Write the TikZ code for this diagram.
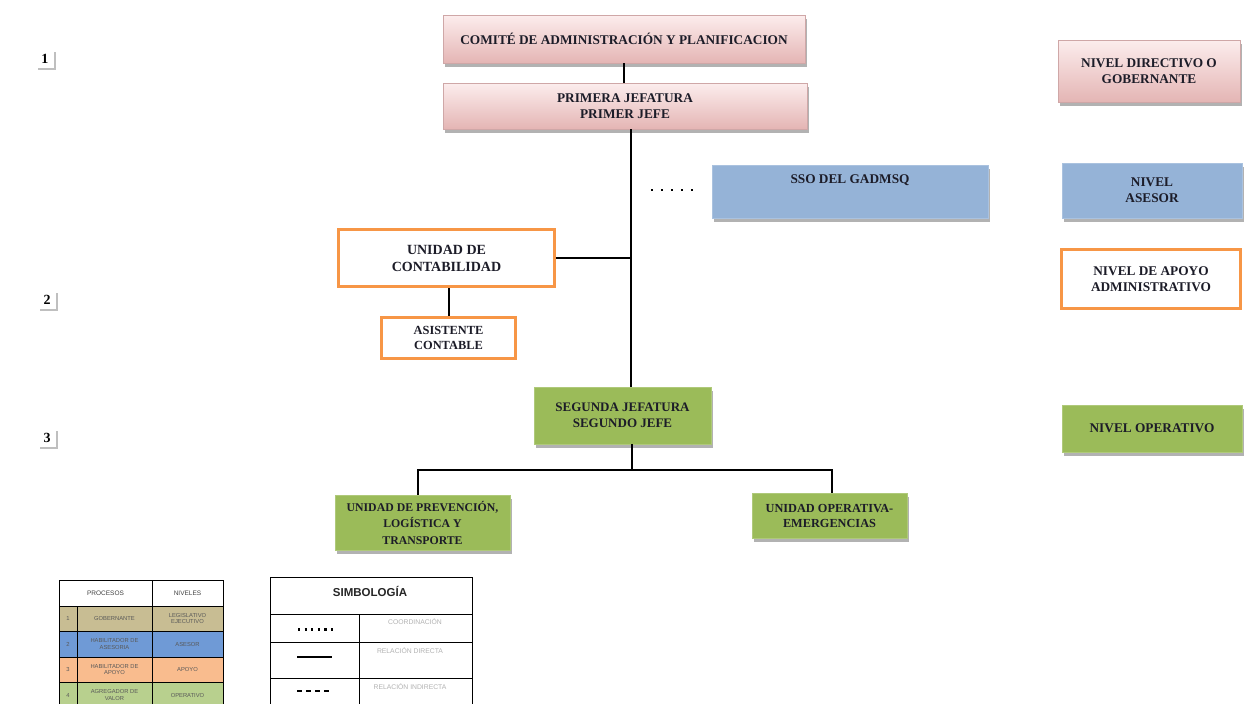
\documentclass[tikz,border=0pt]{standalone}
\usepackage{fontspec}
\setmainfont{Liberation Serif}
\newfontfamily\legsans{Liberation Sans}
\usetikzlibrary{shadows}
\definecolor{pinkTop}{HTML}{FCEDED}
\definecolor{pinkBot}{HTML}{E4B5B4}
\definecolor{pinkBorder}{HTML}{CFA7A7}
\definecolor{bluebox}{HTML}{95B3D7}
\definecolor{greenbox}{HTML}{9BBB59}
\definecolor{orangeb}{HTML}{F79646}
\definecolor{txt}{HTML}{1C1C28}
\definecolor{tan}{HTML}{C8BD93}
\definecolor{lblue}{HTML}{6F9AD6}
\definecolor{lorange}{HTML}{F9BC8E}
\definecolor{lgreen}{HTML}{B8D08E}
\tikzset{
  box/.style={rectangle, inner sep=2pt, align=center, text=txt,
    font=\bfseries\fontsize{13.3}{16}\selectfont},
  shad/.style={drop shadow={shadow xshift=2pt, shadow yshift=-3.5pt, fill=gray!60, opacity=1}},
  pinkbox/.style={box, shad, top color=pinkTop, bottom color=pinkBot, draw=pinkBorder, line width=0.8pt},
  bluebx/.style={box, shad, fill=bluebox, draw=bluebox!80!white, line width=0.8pt},
  greenbx/.style={box, shad, fill=greenbox, draw=greenbox!80!white, line width=0.8pt},
  orangebx/.style={box, fill=white, draw=orangeb, line width=3pt},
  conn/.style={draw=black, line width=2.6pt},
  numbox/.style={rectangle, fill=white, inner sep=0pt, minimum width=18pt, minimum height=18pt,
    font=\bfseries\fontsize{14}{15}\selectfont,
    drop shadow={shadow xshift=1.5pt, shadow yshift=-1.5pt, fill=gray!50, opacity=1}},
  legtxt/.style={font=\legsans\fontsize{5.8}{6.6}\selectfont, text=gray!70!black, align=center, inner sep=0pt},
  symtxt/.style={font=\legsans\fontsize{6.8}{7.5}\selectfont, text=gray!60, align=center, inner sep=0pt},
  tcell/.style={draw=black, line width=1pt},
}
\begin{document}
\begin{tikzpicture}[x=1pt,y=-1pt]
\useasboundingbox[fill=white] (0,0) rectangle (1251,704);
\begin{scope}
\clip (0,0) rectangle (1251,704);

% level numbers
\node[numbox] (n1) at (45,59) {1};
\node[numbox] (n2) at (47,300) {2};
\node[numbox] (n3) at (47,438) {3};

% main chart
\node[pinkbox, minimum width=362pt, minimum height=48pt] (comite) at (624,39) {COMITÉ DE ADMINISTRACIÓN Y PLANIFICACION};
\node[pinkbox, minimum width=364pt, minimum height=46pt] (primera) at (625,106) {PRIMERA JEFATURA\\PRIMER JEFE};
\node[bluebx, minimum width=276pt, minimum height=53pt,
  label={[anchor=north, yshift=-8pt, box]north:SSO DEL GADMSQ}] (sso) at (850,191.5) {};
\node[orangebx, minimum width=216pt, minimum height=57pt, font=\bfseries\fontsize{14}{17}\selectfont] (conta) at (446.5,258) {UNIDAD DE\\CONTABILIDAD};
\node[orangebx, minimum width=134pt, minimum height=41pt, font=\bfseries\fontsize{12.4}{15}\selectfont] (asis) at (448.5,338) {ASISTENTE\\CONTABLE};
\node[greenbx, minimum width=177pt, minimum height=57pt, font=\bfseries\fontsize{13}{16}\selectfont] (segunda) at (622.5,415.5) {SEGUNDA JEFATURA\\SEGUNDO JEFE};
\node[greenbx, minimum width=175pt, minimum height=55pt, font=\bfseries\fontsize{11.8}{16.5}\selectfont] (prev) at (422.5,522.5) {UNIDAD DE PREVENCIÓN,\\LOGÍSTICA Y\\TRANSPORTE};
\node[greenbx, minimum width=155pt, minimum height=45pt, font=\bfseries\fontsize{12.3}{15}\selectfont] (oper) at (829.5,515.5) {UNIDAD OPERATIVA-\\EMERGENCIAS};

% right column levels
\node[pinkbox, minimum width=182pt, minimum height=62pt] (ndir) at (1149,71) {NIVEL DIRECTIVO  O\\GOBERNANTE};
\node[bluebx, minimum width=180pt, minimum height=55pt] (nase) at (1152,190.5) {NIVEL\\ASESOR};
\node[orangebx, minimum width=179pt, minimum height=59pt] (napo) at (1151,279) {NIVEL DE APOYO\\ADMINISTRATIVO};
\node[greenbx, minimum width=180pt, minimum height=47pt] (nope) at (1152,428.5) {NIVEL OPERATIVO};

% connectors
\coordinate (trunk) at (631,0);
\coordinate (bl) at (418,470);
\coordinate (bm) at (632,470);
\coordinate (br) at (832,470);
\draw[conn] (comite.south) -- (comite.south |- primera.north);
\draw[conn] (primera.south -| trunk) -- (segunda.north -| trunk);
\draw[conn] (conta.east) -- (conta.east -| trunk);
\draw[conn] ([xshift=2.5pt]conta.south) -- ([xshift=2.5pt]conta.south |- asis.north);
\draw[conn] (segunda.south -| bm) -- (bm);
\draw[conn] (prev.north -| bl) -- (bl) -- (br) -- (br |- oper.north);
\coordinate (d1) at (651,190);
\coordinate (d2) at (694,190);
\draw[line width=2.6pt, dash pattern=on 2.4pt off 7.6pt] (d1) -- (d2);

% legend table: procesos / niveles
\fill[tan] (59,606) rectangle (223,631);
\fill[lblue] (59,631) rectangle (223,657);
\fill[lorange] (59,657) rectangle (223,682);
\fill[lgreen] (59,682) rectangle (223,712);
\draw[tcell] (59,580) rectangle (223,712);
\draw[tcell] (152,580) -- (152,712);
\draw[tcell] (77,606) -- (77,712);
\foreach \yy in {606,631,657,682} \draw[tcell] (59,\yy) -- (223,\yy);
\node[legtxt, font=\legsans\fontsize{6.5}{7}\selectfont, text=black!75] (hp) at (105.5,593) {PROCESOS};
\node[legtxt, font=\legsans\fontsize{6.5}{7}\selectfont, text=black!75] (hn) at (187.5,593) {NIVELES};
\node[legtxt] (r1a) at (68,618.5) {1};
\node[legtxt] (r1b) at (114.5,618.5) {GOBERNANTE};
\node[legtxt] (r1c) at (187.5,618.5) {LEGISLATIVO\\EJECUTIVO};
\node[legtxt] (r2a) at (68,644) {2};
\node[legtxt] (r2b) at (114.5,644) {HABILITADOR DE\\ASESORIA};
\node[legtxt] (r2c) at (187.5,644) {ASESOR};
\node[legtxt] (r3a) at (68,669.5) {3};
\node[legtxt] (r3b) at (114.5,669.5) {HABILITADOR DE\\APOYO};
\node[legtxt] (r3c) at (187.5,669.5) {APOYO};
\node[legtxt] (r4a) at (68,695) {4};
\node[legtxt] (r4b) at (114.5,695) {AGREGADOR DE\\VALOR};
\node[legtxt] (r4c) at (187.5,695) {OPERATIVO};

% legend table: simbologia
\draw[tcell] (270,577) rectangle (472,712);
\draw[tcell] (270,614) -- (472,614);
\draw[tcell] (270,642) -- (472,642);
\draw[tcell] (270,678) -- (472,678);
\draw[tcell] (359,614) -- (359,712);
\node[font=\legsans\bfseries\fontsize{11.5}{12}\selectfont, text=black!85] (simb) at (370,591) {SIMBOLOGÍA};
\coordinate (s1a) at (298,629.5); \coordinate (s1b) at (334,629.5);
\draw[line width=2.2pt, dash pattern=on 2.2pt off 4.4pt] (s1a) -- (s1b);
\coordinate (s2a) at (297,657); \coordinate (s2b) at (332,657);
\draw[line width=2pt] (s2a) -- (s2b);
\coordinate (s3a) at (297,691); \coordinate (s3b) at (332,691);
\draw[line width=1.4pt, dash pattern=on 5pt off 4pt] (s3a) -- (s3b);
\node[symtxt] (c1) at (415,621.5) {COORDINACIÓN};
\node[symtxt] (c2) at (410,650.5) {RELACIÓN  DIRECTA};
\node[symtxt] (c3) at (410,687) {RELACIÓN  INDIRECTA};
\end{scope}
\end{tikzpicture}
\end{document}
